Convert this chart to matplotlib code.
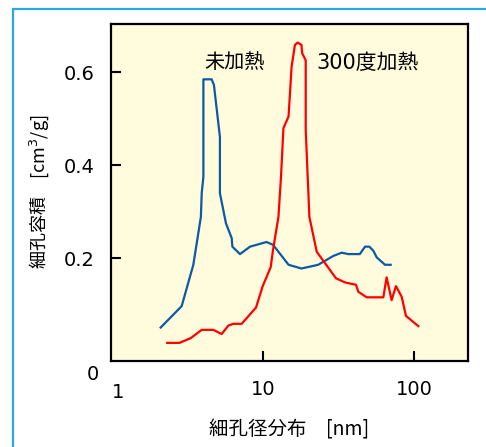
import matplotlib.pyplot as plt
from matplotlib.patches import Rectangle

plt.rcParams['font.family'] = ['Noto Sans CJK JP', 'DejaVu Sans']

# 未加熱 (blue)
raw_x = [2.09, 2.88, 3.44, 3.86, 3.91, 4.01, 4.01, 4.55, 4.71, 5.16, 5.16, 5.66,
         6.18, 6.24, 7.01, 8.17, 10.5, 11.6, 14.7, 17.9, 23.1, 29.1, 33.0, 36.6,
         43.6, 47.2, 50.4, 53.6, 56.4, 64.0, 69.8]
raw_y = [0.051, 0.097, 0.186, 0.289, 0.340, 0.375, 0.585, 0.585, 0.573, 0.461,
         0.340, 0.275, 0.243, 0.225, 0.209, 0.225, 0.235, 0.229, 0.186, 0.178,
         0.186, 0.205, 0.212, 0.209, 0.209, 0.225, 0.225, 0.216, 0.202, 0.186,
         0.186]

# 300度加熱 (red)
heat_x = [2.31, 2.78, 3.30, 3.91, 4.67, 5.30, 5.86, 6.32, 7.19, 8.95, 9.91, 11.2,
          11.6, 12.6, 13.1, 13.6, 14.7, 15.4, 16.2, 16.9, 17.9, 18.1, 19.1, 19.1,
          20.2, 22.6, 30.3, 34.8, 41.1, 42.6, 48.4, 62.4, 65.6, 70.8, 75.7, 82.6,
          88.1, 106.4]
heat_y = [0.018, 0.018, 0.028, 0.046, 0.046, 0.037, 0.055, 0.059, 0.059, 0.094,
          0.140, 0.181, 0.218, 0.289, 0.375, 0.480, 0.505, 0.612, 0.659, 0.664,
          0.659, 0.641, 0.626, 0.476, 0.289, 0.214, 0.157, 0.148, 0.143, 0.128,
          0.116, 0.116, 0.159, 0.110, 0.140, 0.117, 0.076, 0.054]

yticks = [0.2, 0.4, 0.6]
xticks = [10, 100]
num_font = ['DejaVu Sans', 'Noto Sans CJK JP']

fig = plt.figure(figsize=(4.86, 4.47), dpi=100)
fig.patches.append(Rectangle((13 / 486, -0.1), 1.2, 1.1 - 9 / 447,
                             transform=fig.transFigure, fill=False,
                             edgecolor='#2AA8E6', linewidth=1.6))

ax = fig.add_axes([111 / 486, 1 - 361 / 447, 357 / 486, 337 / 447])
ax.set_facecolor('#FFFBDC')
ax.plot(raw_x, raw_y, color='#0A5AA5', linewidth=1.6)
ax.plot(heat_x, heat_y, color='#FF0000', linewidth=1.6)

ax.set_xscale('log')
ax.set_xlim(0.98, 227)
ax.set_ylim(-0.021, 0.704)

ax.set_xticks(xticks)
ax.set_xticklabels(['10', '100'], family=num_font)
ax.minorticks_off()
ax.set_yticks(yticks)
ax.set_yticklabels(['0.2', '0.4', '0.6'], family=num_font)
ax.tick_params(direction='in', length=7, width=1.5, labelsize=14, pad=12)
ax.tick_params(axis='x', pad=14)
for s in ax.spines.values():
    s.set_linewidth(1.6)

fig.text(118 / 486, 1 - 392 / 447, '1', family=num_font,
         ha='center', va='center', fontsize=14)
fig.text(93 / 486, 1 - 375 / 447, '0', family=num_font,
         ha='center', va='center', fontsize=14)

fig.text(204 / 486, 1 - 63 / 447, '未加熱',
         ha='left', va='center', fontsize=14.5)
fig.text(316 / 486, 1 - 63 / 447, '300度加熱', family=num_font,
         ha='left', va='center', fontsize=15)

fig.text(39 / 486, 1 - 192 / 447, '細孔容積　[cm$^3$/g]', rotation=90,
         ha='center', va='center', fontsize=13)
fig.text(289 / 486, 1 - 430 / 447, '細孔径分布　[nm]',
         ha='center', va='center', fontsize=14)

fig.savefig('out.png', dpi=100)
